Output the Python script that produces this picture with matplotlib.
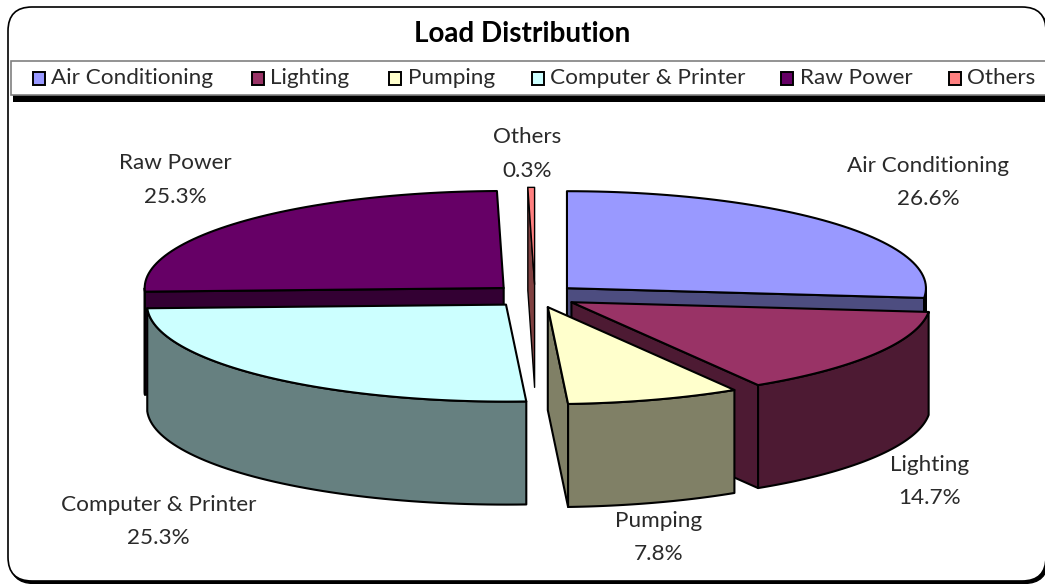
import numpy as np
import matplotlib
matplotlib.use("Agg")
import matplotlib.pyplot as plt
from matplotlib.patches import Polygon, FancyBboxPatch, Rectangle

categories = ["Air Conditioning", "Lighting", "Pumping", "Computer & Printer", "Raw Power", "Others"]
values = [26.6, 14.7, 7.8, 25.3, 25.3, 0.3]
pct_labels = ["26.6%", "14.7%", "7.8%", "25.3%", "25.3%", "0.3%"]
top_colors = ["#9999FF", "#993366", "#FFFFCC", "#CCFFFF", "#660066", "#FF8080"]
side_colors = ["#4D4D80", "#4D1A33", "#808066", "#668080", "#330033", "#804040"]

FONT = ["Lato", "DejaVu Sans"]
W, H = 1045, 584
fig = plt.figure(figsize=(W / 100, H / 100), dpi=100)
ax = fig.add_axes([0, 0, 1, 1])
ax.set_xlim(0, W)
ax.set_ylim(H, 0)
ax.axis("off")

# Chart frame with shadow
ax.add_patch(FancyBboxPatch((10, 10), 1038, 573.5, boxstyle="round,pad=0,rounding_size=24",
                            fc="black", ec="black", lw=1.0, zorder=0, clip_on=True))
ax.add_patch(FancyBboxPatch((8, 7), 1038, 574, boxstyle="round,pad=0,rounding_size=24",
                            fc="white", ec="black", lw=1.2, zorder=1, clip_on=True))

ax.text(522.5, 33.5, "Load Distribution", ha="center", va="center", fontsize=20.1,
        fontweight="bold", family=FONT, color="black", zorder=5)

# Legend box with shadow
ax.add_patch(Rectangle((13, 64), 1040, 37.5, fc="black", ec="none", zorder=2))
ax.add_patch(Rectangle((10.5, 61), 1040, 33.5, fc="white", ec="#808080", lw=1.2, zorder=3))
leg_swatch_x = [32.5, 252, 389, 532, 781, 949]
for x, c, name in zip(leg_swatch_x, top_colors, categories):
    ax.add_patch(Rectangle((x, 71.5), 12, 13, fc=c, ec="black", lw=1.4, zorder=4))
    ax.text(x + 18.5, 77.5, name, ha="left", va="center", fontsize=16.2,
            family=FONT, color="#2a2a2a", zorder=5)

# Projected 3-D pie
CX, CY, RX, RY, DEPTH, EXPLODE = 535, 296, 359, 97, 103, 0.12
vals = np.array(values, dtype=float)
edges = np.concatenate([[0], np.cumsum(vals) / vals.sum() * 360])


def rim(apex, t0, t1, n=60):
    t = np.radians(np.linspace(t0, t1, n))
    return np.column_stack([apex[0] + RX * np.sin(t), apex[1] - RY * np.cos(t)])


def extrude(pts):
    low = pts[::-1] + [0, DEPTH]
    return np.vstack([pts, low])


apexes = []
for t0, t1 in zip(edges[:-1], edges[1:]):
    m = np.radians((t0 + t1) / 2)
    apexes.append((CX + EXPLODE * RX * np.sin(m), CY - EXPLODE * RY * np.cos(m)))


def poly(pts, fc, z, lw=1.5):
    ax.add_patch(Polygon(pts, closed=True, fc=fc, ec="black", lw=lw, joinstyle="round", zorder=z))


for z, i in enumerate([4, 5, 0, 3, 1, 2]):
    t0, t1 = edges[i], edges[i + 1]
    apex = np.array(apexes[i])
    r = rim(apex, t0, t1)
    base = 10 + z * 3
    lw = 1.0 if i == 5 else 1.5
    # Radial cut face visible from the front
    if i in (0, 1, 2):
        poly(extrude(np.vstack([apex, r[-1]])), side_colors[i], base, lw)
    else:
        if i != 3:
            poly(extrude(np.vstack([r[0], apex])), side_colors[i], base, lw)
    # Outer curved wall (only the front half of the rim)
    lo, hi = max(t0, 90), min(t1, 270)
    if lo < hi:
        poly(extrude(rim(apex, lo, hi)), side_colors[i], base + 1, lw)
    poly(np.vstack([apex, r]), top_colors[i], base + 2, lw)

# Data labels
label_xy = [(928, 182.5), (929.5, 481.5), (659, 537.5), (158.5, 521.5), (175, 180), (527, 154)]
for (x, y), name, pct in zip(label_xy, categories, pct_labels):
    ax.text(x, y, f"{name}\n{pct}", ha="center", va="center", fontsize=16.2,
            family=FONT, color="#2a2a2a", linespacing=1.82, zorder=40)

fig.savefig("out.png", dpi=100)
